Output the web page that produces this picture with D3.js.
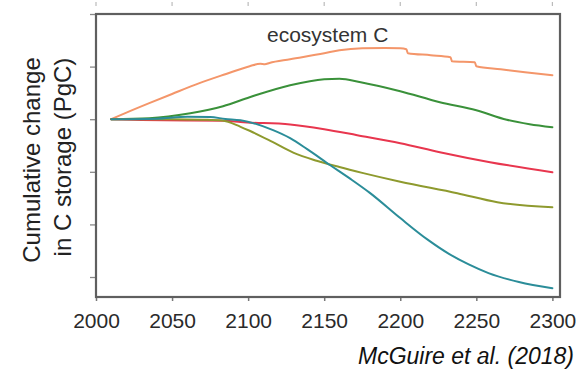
<!DOCTYPE html>
<html>
<head>
<meta charset="utf-8">
<script src="https://cdn.jsdelivr.net/npm/d3@7"></script>
<style>
  html, body { margin: 0; padding: 0; background: #fff; }
  svg { display: block; font-family: "Liberation Sans", Arial, sans-serif; }
</style>
</head>
<body>
<svg id="chart" width="585" height="373"></svg>
<script>
// Cumulative change in C storage (PgC), ecosystem C, 2010-2300
const xTickYears = [2000, 2050, 2100, 2150, 2200, 2250, 2300];
const yTickValues = [-30, -20, -10, 0, 10, 20];

const orangeSeries = [
  [2010, 0], [2020, 1.25], [2035, 3.05], [2050, 4.8], [2068, 6.85], [2085, 8.55],
  [2101, 10.08], [2108, 10.55], [2111, 10.45], [2114, 10.7], [2127.6, 11.41],
  [2150, 12.55], [2160, 13.12], [2175, 13.5], [2190, 13.55], [2200, 13.5],
  [2204, 13.31], [2205, 12.55], [2220, 12.17], [2233, 11.79], [2234, 11.03],
  [2249, 10.84], [2250, 10.08], [2266, 9.51], [2282, 8.94], [2300, 8.37]
];
const greenSeries = [
  [2010, 0], [2035, 0.19], [2062, 1.14], [2083.5, 2.47], [2101, 4.18],
  [2127.6, 6.46], [2150, 7.6], [2160, 7.7], [2174, 7.03], [2200, 5.32],
  [2226, 3.23], [2250, 1.71], [2270, -0.1], [2285, -0.95], [2300, -1.52]
];
const redSeries = [
  [2010, 0], [2030, -0.15], [2060, -0.25], [2085, -0.3], [2095, -0.55],
  [2127.6, -1.0], [2150, -1.9], [2171.7, -3.04], [2200, -4.56], [2226, -6.27],
  [2259, -8.17], [2300, -10.08]
];
const tealSeries = [
  [2010, 0], [2040, 0.1], [2060, 0.45], [2075, 0.4], [2085, 0.05], [2095, -0.19],
  [2116.4, -2.09], [2127.6, -3.61], [2138.8, -5.7], [2154, -8.75], [2167, -11.3],
  [2180, -14.0], [2200, -18.8], [2218, -22.9], [2232, -25.6], [2245, -27.6],
  [2258, -29.25], [2278, -30.95], [2300, -32.13]
];
const oliveSeries = [
  [2010, 0], [2050, 0], [2070, -0.1], [2083, -0.25], [2095, -1.45], [2101, -2.2],
  [2116, -4.32], [2130, -6.4], [2145, -7.9], [2160, -9.1], [2175, -10.2],
  [2200, -11.88], [2237.5, -14.07], [2263.8, -15.78], [2300, -16.73]
];

const seriesList = [
  { data: orangeSeries, color: "#f4966a" },
  { data: greenSeries, color: "#3a913a" },
  { data: redSeries, color: "#e8364e" },
  { data: oliveSeries, color: "#8e9a2e" },
  { data: tealSeries, color: "#2b8d99" }
];

const svg = d3.select("#chart");
const plot = { left: 96, top: 14, right: 560, bottom: 297 };

const x = d3.scaleLinear().domain([2000, 2305]).range([plot.left, plot.right]);
const y = d3.scaleLinear().domain([-33.8, 20]).range([plot.bottom, plot.top]);

// Faint tick marks along the very top edge
svg.append("g")
  .selectAll("line")
  .data(xTickYears)
  .join("line")
  .attr("x1", d => x(d)).attr("x2", d => x(d))
  .attr("y1", 2).attr("y2", 6)
  .attr("stroke", "#bbb").attr("stroke-width", 1.2);

// Bottom axis
const xAxis = svg.append("g")
  .attr("transform", `translate(0,${plot.bottom})`)
  .call(d3.axisBottom(x).tickValues(xTickYears).tickFormat(d3.format("d"))
    .tickSize(4).tickPadding(12));
xAxis.select(".domain").remove();
xAxis.selectAll(".tick line").attr("stroke", "#777").attr("stroke-width", 1.5);
xAxis.selectAll(".tick text")
  .attr("fill", "#2a2a2a")
  .style("font-size", "21px")
  .style("font-family", "'Liberation Sans', Arial, sans-serif");

// Left axis (ticks only)
const yAxis = svg.append("g")
  .attr("transform", `translate(${plot.left},0)`)
  .call(d3.axisLeft(y).tickValues(yTickValues).tickFormat("").tickSize(6));
yAxis.select(".domain").remove();
yAxis.selectAll(".tick line").attr("stroke", "#888").attr("stroke-width", 1.3);

// Series lines
const line = d3.line()
  .x(d => x(d[0]))
  .y(d => y(d[1]))
  .curve(d3.curveMonotoneX);

svg.append("g")
  .selectAll("path")
  .data(seriesList)
  .join("path")
  .attr("d", d => line(d.data))
  .attr("fill", "none")
  .attr("stroke", d => d.color)
  .attr("stroke-width", 2)
  .attr("stroke-linejoin", "round")
  .attr("stroke-linecap", "round");

// Plot frame
svg.append("rect")
  .attr("x", plot.left).attr("y", plot.top)
  .attr("width", plot.right - plot.left)
  .attr("height", plot.bottom - plot.top)
  .attr("fill", "none")
  .attr("stroke", "#5f5f5f")
  .attr("stroke-width", 2.2);

// Panel title
svg.append("text")
  .attr("x", 267).attr("y", 42)
  .attr("fill", "#333")
  .style("font-size", "21px")
  .text("ecosystem C");

// Y-axis title, two lines
const yTitle = svg.append("g").attr("fill", "#222").style("font-size", "24px");
yTitle.append("text")
  .attr("transform", "translate(40,160) rotate(-90)")
  .attr("text-anchor", "middle")
  .text("Cumulative change");
yTitle.append("text")
  .attr("transform", "translate(71,157) rotate(-90)")
  .attr("text-anchor", "middle")
  .text("in C storage (PgC)");

// Source
svg.append("text")
  .attr("x", 574).attr("y", 364)
  .attr("text-anchor", "end")
  .attr("fill", "#111")
  .style("font-size", "23px")
  .style("font-style", "italic")
  .text("McGuire et al. (2018)");
</script>
</body>
</html>
